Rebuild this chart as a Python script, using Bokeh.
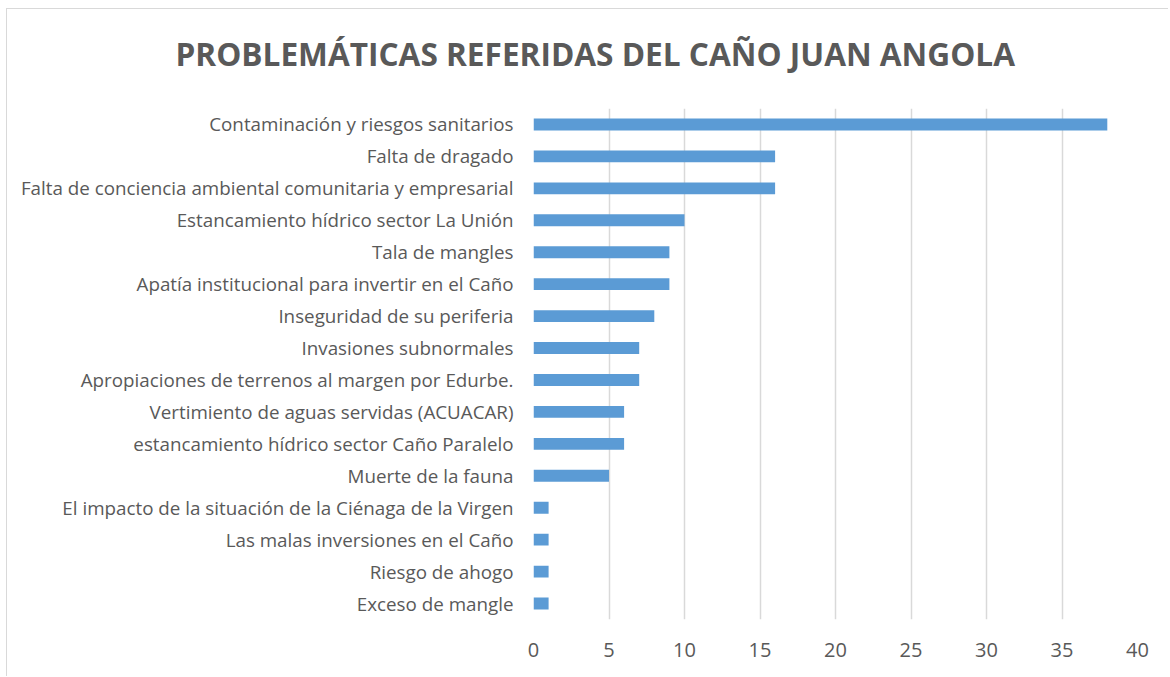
from bokeh.plotting import figure
from bokeh.models import Title
from bokeh.embed import file_html
from bokeh.resources import INLINE

categories = [
    "Contaminación y riesgos sanitarios",
    "Falta de dragado",
    "Falta de conciencia ambiental comunitaria y empresarial",
    "Estancamiento hídrico sector La Unión",
    "Tala de mangles",
    "Apatía institucional para invertir en el Caño",
    "Inseguridad de su periferia",
    "Invasiones subnormales",
    "Apropiaciones de terrenos al margen por Edurbe.",
    "Vertimiento de aguas servidas (ACUACAR)",
    "estancamiento hídrico sector Caño Paralelo",
    "Muerte de la fauna",
    "El impacto de la situación de la Ciénaga de la Virgen",
    "Las malas inversiones en el Caño",
    "Riesgo de ahogo",
    "Exceso de mangle",
]
values = [38, 16, 16, 10, 9, 9, 8, 7, 7, 6, 6, 5, 1, 1, 1, 1]
x_ticks = [0, 5, 10, 15, 20, 25, 30, 35, 40]
title_text = "PROBLEMÁTICAS REFERIDAS DEL CAÑO JUAN ANGOLA"

FONT = "Open Sans"
GREY = "#595959"

p = figure(
    width=1162, height=668,
    y_range=list(reversed(categories)),
    x_range=(0, 40),
    output_backend="svg", toolbar_location=None,
    min_border_left=526, min_border_right=32,
    min_border_top=99, min_border_bottom=58,
)
p.margin = (8, 0, 0, 6)
p.styles = {"border-left": "1px solid #d9d9d9", "border-top": "1px solid #d9d9d9"}
p.outline_line_color = None
p.background_fill_color = "white"
p.border_fill_color = "white"

p.hbar(y=categories, right=values, height=0.37, left=0,
       fill_color="#5B9BD5", line_color=None)

p.y_range.range_padding = 0
p.xaxis.ticker = x_ticks
p.xgrid.ticker = x_ticks
p.xgrid.grid_line_color = "#D9D9D9"
p.xgrid.grid_line_width = 1.5
p.ygrid.grid_line_color = None

for ax in (p.xaxis, p.yaxis):
    ax.axis_line_color = None
    ax.major_tick_line_color = None
    ax.minor_tick_line_color = None
    ax.major_label_text_color = GREY
    ax.major_label_text_font = FONT

p.xaxis.major_label_text_font_size = "20px"
p.xaxis.major_label_standoff = 17
p.yaxis.major_label_text_font_size = "18.8px"
p.yaxis.major_label_standoff = 14

# small spacer panel between the title and the plot frame
spacer = Title(text=" ", text_font=FONT, text_font_size="4px", standoff=2.5)
p.add_layout(spacer, "above")

title = Title(text=title_text, align="left", offset=-358, vertical_align="top",
              standoff=44, text_font=FONT, text_font_style="bold",
              text_font_size="31.6px", text_color=GREY)
p.add_layout(title, "above")

open("out.html", "w").write(file_html(p, INLINE))
